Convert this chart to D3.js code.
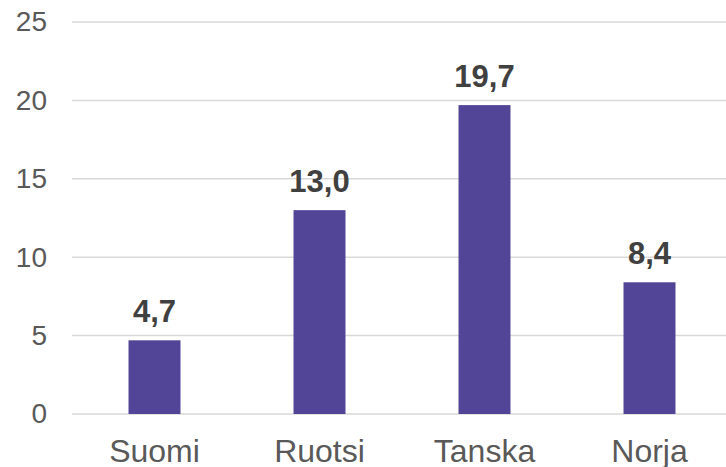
<!DOCTYPE html>
<html>
<head>
<meta charset="utf-8">
<script src="https://unpkg.com/d3@7/dist/d3.min.js"></script>
<style>
  body { margin: 0; background: #fff; }
  svg { display: block; font-family: "Liberation Sans", Arial, sans-serif; }
</style>
</head>
<body>
<div id="wrapper"></div>
<script>
// data
const countries = ["Suomi", "Ruotsi", "Tanska", "Norja"]
const values = [4.7, 13.0, 19.7, 8.4]
const yTicks = [0, 5, 10, 15, 20, 25]

const dimensions = {
    width: 726,
    height: 467,
    margins: { top: 22, right: -6, bottom: 53, left: 72 }
}
dimensions.boundedWidth = dimensions.width - dimensions.margins.left - dimensions.margins.right
dimensions.boundedHeight = dimensions.height - dimensions.margins.top - dimensions.margins.bottom

const wrapper = d3.select("#wrapper")
    .append("svg")
        .attr("width", dimensions.width)
        .attr("height", dimensions.height)

const bounds = wrapper.append("g")
    .attr("transform", `translate(${dimensions.margins.left},${dimensions.margins.top})`)

// scales
const xScale = d3.scaleBand()
    .domain(countries)
    .range([0, dimensions.boundedWidth])
    .paddingInner(0.685)
    .paddingOuter(0.3425)

const yScale = d3.scaleLinear()
    .domain([0, 25])
    .range([dimensions.boundedHeight, 0])

// gridlines
bounds.append("g")
    .selectAll("line")
    .data(yTicks)
    .join("line")
        .attr("x1", 0)
        .attr("x2", dimensions.boundedWidth)
        .attr("y1", d => yScale(d))
        .attr("y2", d => yScale(d))
        .attr("stroke", "#d9d9d9")
        .attr("stroke-width", 1.5)

// y axis labels
const yAxis = bounds.append("g")
    .call(d3.axisLeft(yScale).tickValues(yTicks).tickSize(0).tickPadding(25))
yAxis.select(".domain").remove()
yAxis.selectAll("text")
    .attr("fill", "#595959")
    .style("font-size", "28px")
    .style("font-family", "Liberation Sans, Arial, sans-serif")

// bars
const data = countries.map((c, i) => ({ country: c, value: values[i] }))

bounds.selectAll("rect")
    .data(data)
    .join("rect")
        .attr("x", d => xScale(d.country))
        .attr("y", d => yScale(d.value))
        .attr("width", xScale.bandwidth())
        .attr("height", d => dimensions.boundedHeight - yScale(d.value))
        .attr("fill", "#524597")

// value labels
bounds.selectAll(".value")
    .data(data)
    .join("text")
        .attr("class", "value")
        .attr("x", d => xScale(d.country) + xScale.bandwidth() / 2)
        .attr("y", d => yScale(d.value) - 18)
        .attr("text-anchor", "middle")
        .attr("fill", "#404040")
        .style("font-size", "31px")
        .style("font-weight", "bold")
        .text(d => d.value.toFixed(1).replace(".", ","))

// x axis labels
const xAxis = bounds.append("g")
    .attr("transform", `translate(0,${dimensions.boundedHeight})`)
    .call(d3.axisBottom(xScale).tickSize(0).tickPadding(0))
xAxis.select(".domain").remove()
xAxis.selectAll("text")
    .attr("dy", null)
    .attr("y", 48)
    .attr("fill", "#595959")
    .style("font-size", "32px")
    .style("font-family", "Liberation Sans, Arial, sans-serif")
</script>
</body>
</html>
